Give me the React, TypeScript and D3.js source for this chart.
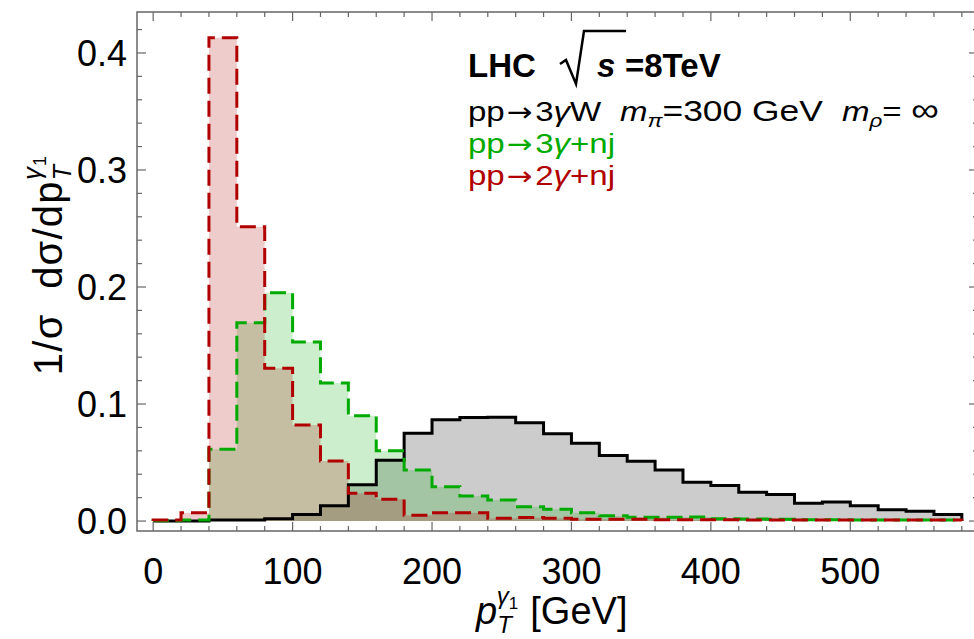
import React from "react";
import * as d3 from "d3";

const binEdges = [0, 20, 40, 60, 80, 100, 120, 140, 160, 180, 200, 220, 240, 260, 280, 300, 320, 340, 360, 380, 400, 420, 440, 460, 480, 500, 520, 540, 560, 580];

const sig3gW = [0, 0, 0.0008, 0.001, 0.002, 0.0055, 0.013, 0.031, 0.052, 0.075, 0.0865, 0.0885, 0.0888, 0.084, 0.0745, 0.0665, 0.056, 0.051, 0.0437, 0.0332, 0.0303, 0.0246, 0.0226, 0.0152, 0.0163, 0.013, 0.0096, 0.0084, 0.0057];
const bkg3g = [0.0003, 0.0008, 0.0613, 0.1695, 0.195, 0.153, 0.118, 0.09, 0.06, 0.0436, 0.0293, 0.0214, 0.018, 0.0122, 0.01, 0.0071, 0.0045, 0.0032, 0.0032, 0.0035, 0.002, 0.0018, 0.0015, 0.0012, 0.0012, 0.001, 0.001, 0.001, 0.001];
const bkg2g = [0.0008, 0.007, 0.413, 0.2515, 0.1305, 0.082, 0.0513, 0.0237, 0.0186, 0.005, 0.007, 0.007, 0.0025, 0.003, 0.0025, 0.0015, 0.0015, 0.0015, 0.0012, 0.0012, 0.0012, 0.001, 0.001, 0.001, 0.001, 0.001, 0.001, 0.001, 0.001];

const xMajor = [0, 100, 200, 300, 400, 500];
const yMajor = [0, 0.1, 0.2, 0.3, 0.4];
const yMajorLabels = ["0.0", "0.1", "0.2", "0.3", "0.4"];

const W = 974;
const H = 639;
const FONT = "'Liberation Sans', Arial, sans-serif";
const ARROW_FONT = "'DejaVu Sans', sans-serif";

export default function App() {
  const x = d3.scaleLinear().domain([-11.6, 591.6]).range([137, 978]);
  const y = d3.scaleLinear().domain([-0.0085, 0.435]).range([531, 12]);
  const xMinor = d3.range(0, 600, 20);
  const yMinor = d3.range(0, 0.44, 0.02);

  const stepPath = (vals: number[]) => {
    let d = `M${x(binEdges[0])},${y(0)}`;
    vals.forEach((v, i) => {
      d += `V${y(v)}H${x(binEdges[i + 1])}`;
    });
    d += `V${y(0)}`;
    return d;
  };

  const series = [
    { vals: sig3gW, stroke: "#000000", fill: "#000000", dash: null },
    { vals: bkg3g, stroke: "#00aa00", fill: "#00aa00", dash: "16,7" },
    { vals: bkg2g, stroke: "#b00000", fill: "#b00000", dash: "16,7" },
  ];

  const frameColor = "#666666";
  const left = 137, right = 978, top = 12, bottom = 531;
  const TF = 36;
  const LF = 28;
  const SX = 1.18;
  const lx = (px: number) => (px - 468) / SX;

  const legendLine = (digit: string, tail: string, yy: number, color: string) => (
    <text x={0} y={yy} fontSize={LF} fill={color}>
      pp<tspan fontFamily={ARROW_FONT} fontSize={26} dx={2}>→</tspan>
      <tspan dx={2}>{digit}</tspan><tspan fontStyle="italic">γ</tspan>{tail}
    </text>
  );

  return (
    <svg width={W} height={H} style={{ position: "absolute", left: 0, top: 0, background: "#fff" }} fontFamily={FONT}>
      <rect x={0} y={0} width={W} height={H} fill="#fff" />
      {series.map((s, i) => (
        <path key={"f" + i} d={stepPath(s.vals) + "Z"} fill={s.fill} fillOpacity={0.2} stroke="none" />
      ))}
      {series.map((s, i) => (
        <path key={"l" + i} d={stepPath(s.vals)} fill="none" stroke={s.stroke} strokeWidth={3}
          strokeDasharray={s.dash || undefined} strokeLinejoin="miter" />
      ))}
      <rect x={left} y={top} width={right - left} height={bottom - top} fill="none" stroke={frameColor} strokeWidth={1.5} />
      {xMinor.map((v) => {
        const major = xMajor.includes(v);
        const len = major ? 9 : 5;
        return (
          <g key={"xt" + v}>
            <line x1={x(v)} x2={x(v)} y1={bottom} y2={bottom - len} stroke={frameColor} strokeWidth={1.2} />
            <line x1={x(v)} x2={x(v)} y1={top} y2={top + len} stroke={frameColor} strokeWidth={1.2} />
          </g>
        );
      })}
      {yMinor.map((v, i) => {
        const major = i % 5 === 0;
        const len = major ? 9 : 5;
        return (
          <g key={"yt" + i}>
            <line x1={left} x2={left + len} y1={y(v)} y2={y(v)} stroke={frameColor} strokeWidth={1.2} />
            <line x1={right} x2={right - len} y1={y(v)} y2={y(v)} stroke={frameColor} strokeWidth={1.2} />
          </g>
        );
      })}
      {xMajor.map((v) => (
        <text key={"xl" + v} x={x(v)} y={584} textAnchor="middle" fontSize={TF} fill="#000">{v}</text>
      ))}
      {yMajor.map((v, i) => (
        <text key={"yl" + v} x={127} y={y(v) + 13} textAnchor="end" fontSize={TF} fill="#000">{yMajorLabels[i]}</text>
      ))}
      {/* x label */}
      <text x={476} y={624} fontSize={38} fill="#000">
        <tspan fontStyle="italic">p</tspan>
        <tspan fontStyle="italic" fontSize={24} dy={9}>T</tspan>
        <tspan fontStyle="italic" fontSize={24} dx={-15} dy={-29}>γ</tspan>
        <tspan fontSize={17} dy={5}>1</tspan>
        <tspan dy={15} dx={12}>[GeV]</tspan>
      </text>
      {/* y label */}
      <g transform="translate(62,265) rotate(-90)">
        <text x={0} y={0} textAnchor="middle" fontSize={40} letterSpacing={1.2} fill="#000">
          <tspan>1/σ{"\u00A0\u00A0"}dσ/dp</tspan>
          <tspan fontStyle="italic" fontSize={25} dy={9}>T</tspan>
          <tspan fontStyle="italic" fontSize={25} dx={-16} dy={-30}>γ</tspan>
          <tspan fontSize={18} dy={5}>1</tspan>
        </text>
      </g>
      {/* legend */}
      <text x={468} y={77} fontSize={33} fontWeight="bold" fill="#000">LHC</text>
      <path d="M560,64 L566,60 L576,84 L584,31 L626,31" fill="none" stroke="#000" strokeWidth={2.5} />
      <text x={597} y={77} fontSize={33} fontWeight="bold" fontStyle="italic" fill="#000">s</text>
      <text x={625} y={77} fontSize={33} fontWeight="bold" fill="#000">=8TeV</text>

      <g transform={`translate(468,0) scale(${SX},1)`}>
        {legendLine("3", "W", 121, "#000")}
        <text x={lx(620)} y={121} fontSize={LF} fill="#000">
          <tspan fontStyle="italic">m</tspan>
          <tspan fontStyle="italic" fontSize={19} dy={6}>π</tspan>
          <tspan fontSize={30} dy={-6}>=300 GeV</tspan>
        </text>
        <text x={lx(842)} y={121} fontSize={LF} fill="#000">
          <tspan fontStyle="italic">m</tspan>
          <tspan fontStyle="italic" fontSize={19} dy={6}>ρ</tspan>
          <tspan dy={-6}>=</tspan>
          <tspan fontSize={33} dx={8}>∞</tspan>
        </text>
        {legendLine("3", "+nj", 153, "#00aa00")}
        {legendLine("2", "+nj", 185, "#b00000")}
      </g>
    </svg>
  );
}
